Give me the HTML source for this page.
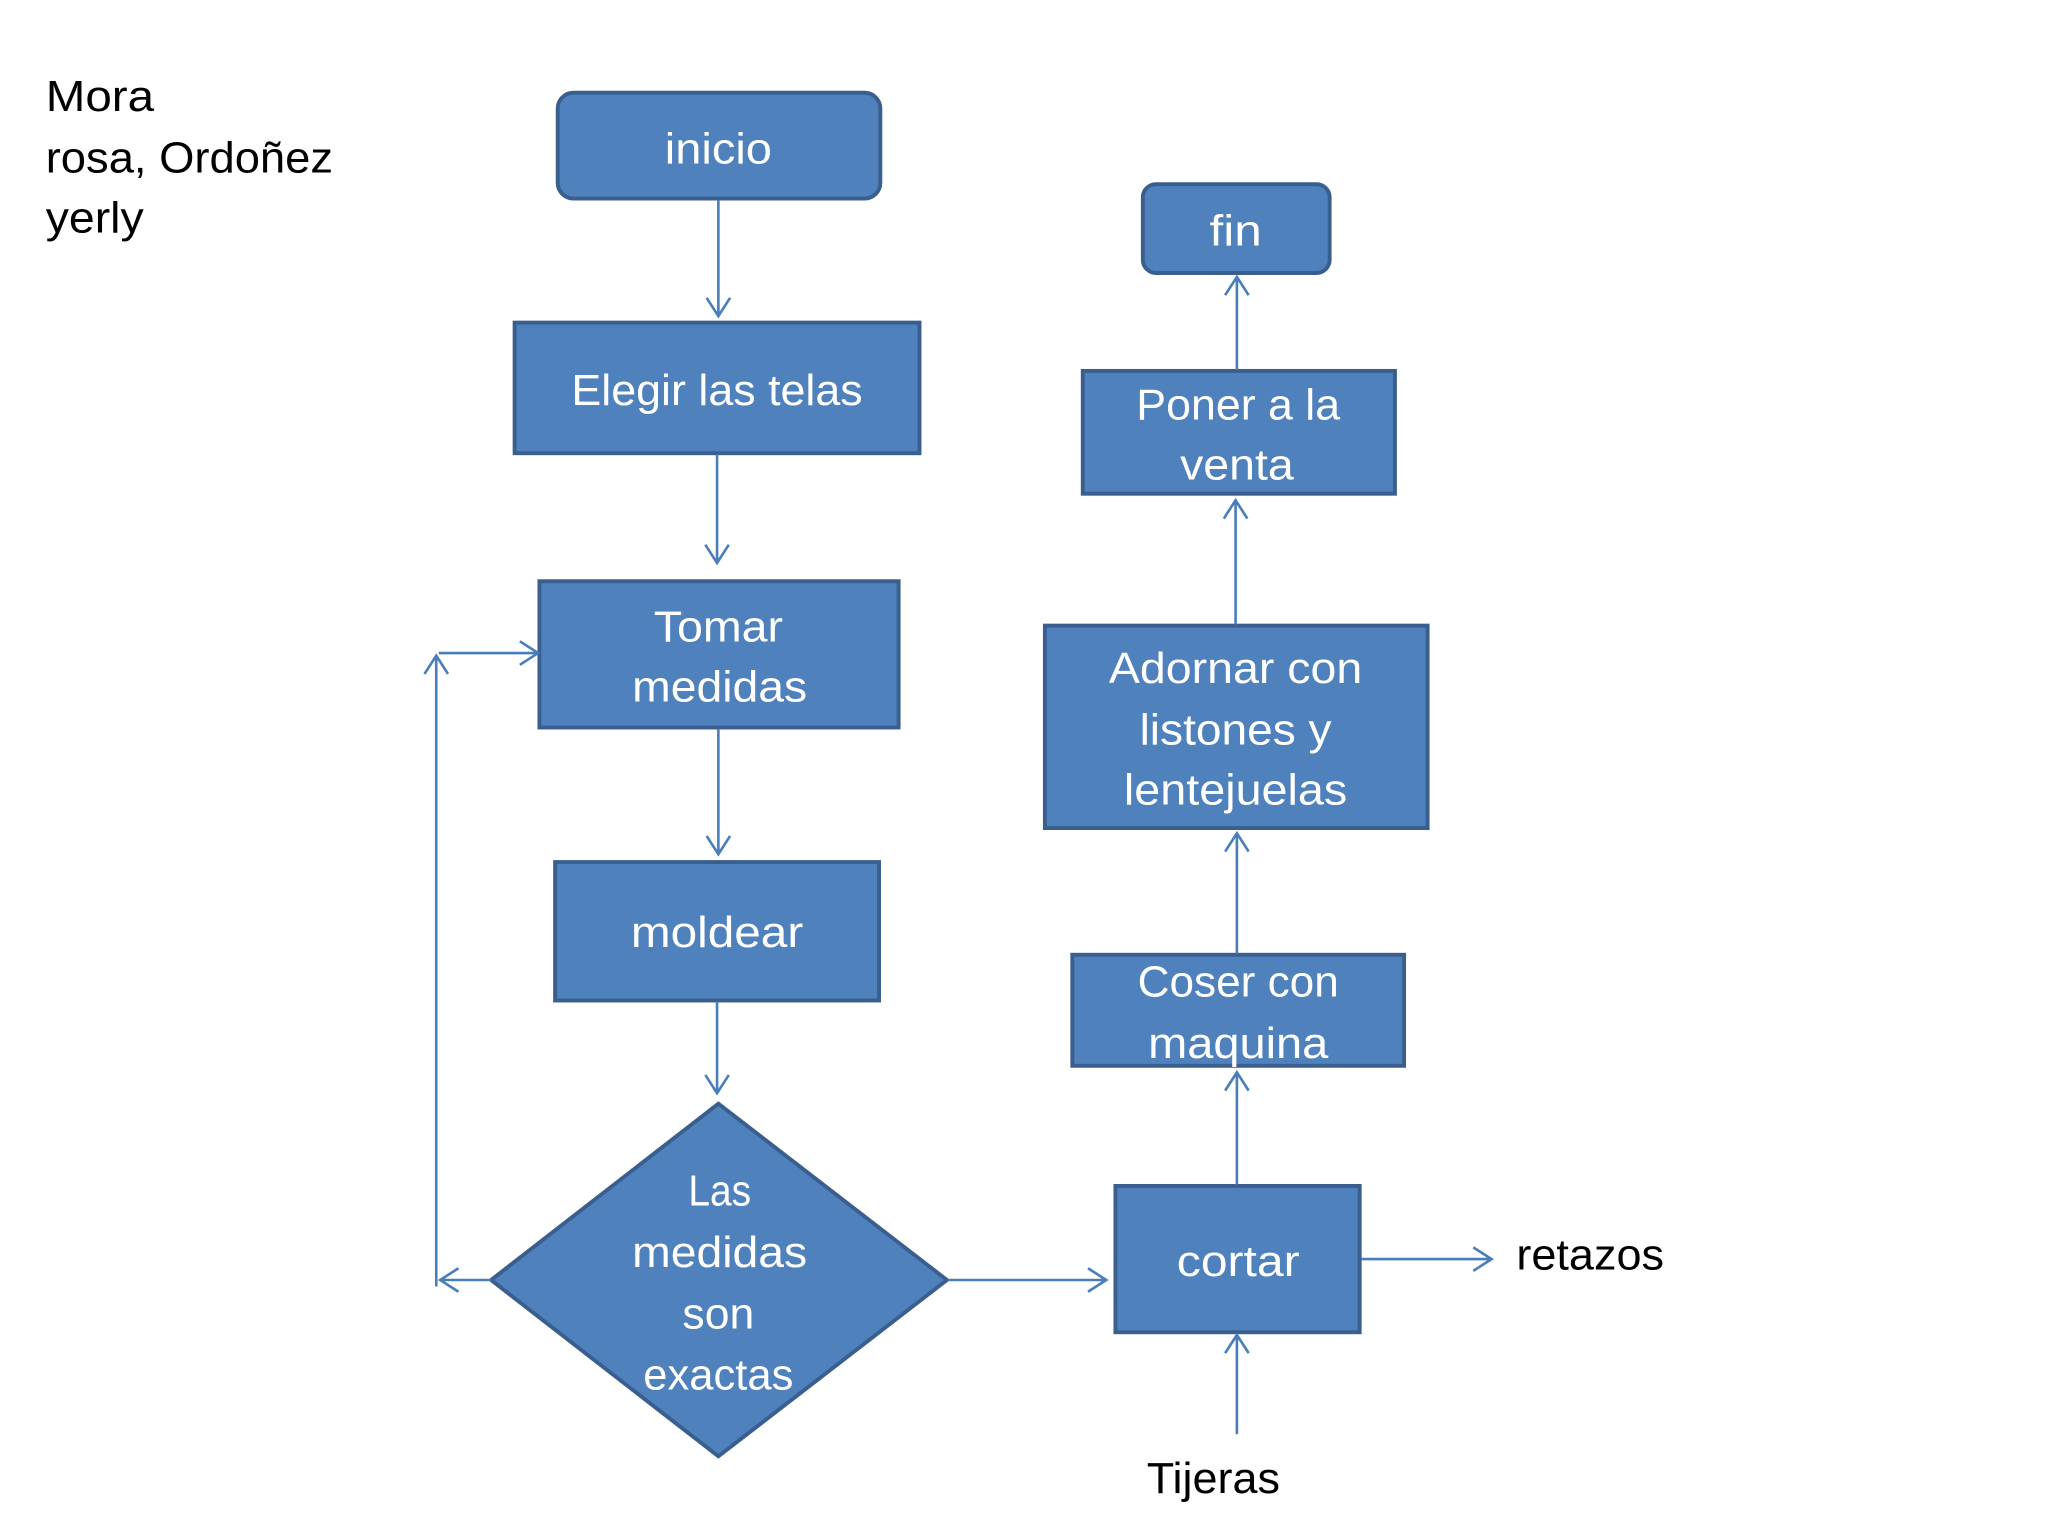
<!DOCTYPE html>
<html><head><meta charset="utf-8"><style>html,body{margin:0;padding:0;background:#fff}svg{display:block}</style></head>
<body>
<svg width="2048" height="1536" viewBox="0 0 1568 1176" xmlns="http://www.w3.org/2000/svg">
<g font-family="Liberation Sans, sans-serif" font-size="32" text-anchor="middle" fill="#fff">
</g>
<g fill="#4F81BD" stroke="#3A5F8E" stroke-width="3">
<rect x="427" y="71" width="247" height="81" rx="12"/>
<rect x="394" y="247" width="310" height="100"/>
<rect x="413" y="445" width="275" height="112"/>
<rect x="425" y="660" width="248" height="106"/>
<polygon points="550,845 725,980 550,1115 376,980"/>
<rect x="854" y="908" width="187" height="112"/>
<rect x="821" y="731" width="254" height="85"/>
<rect x="800" y="479" width="293" height="155"/>
<rect x="829" y="284" width="239" height="94"/>
<rect x="875" y="141" width="143" height="68" rx="10"/>
</g>
<g stroke="#4A7EBB" stroke-width="2" fill="none">
<path d="M550 153V242M541 228L550 242L559 228"/>
<path d="M549 348V431M540 417L549 431L558 417"/>
<path d="M550 558V654M541 640L550 654L559 640"/>
<path d="M549 767V837M540 823L549 837L558 823"/>
<path d="M376 980H337M351 971L337 980L351 989"/>
<path d="M334 985V502M325 516L334 502L343 516"/>
<path d="M336 500H412M398 491L412 500L398 509"/>
<path d="M726 980H847M833 971L847 980L833 989"/>
<path d="M1042 964H1142M1128 955L1142 964L1128 973"/>
<path d="M947 1098V1022M938 1036L947 1022L956 1036"/>
<path d="M947 907V821M938 835L947 821L956 835"/>
<path d="M947 730V638M938 652L947 638L956 652"/>
<path d="M946 478V383M937 397L946 383L955 397"/>
<path d="M947 283V212M938 226L947 212L956 226"/>
</g>
<g font-family="Liberation Sans, sans-serif" font-size="33" text-anchor="middle" fill="#fff" lengthAdjust="spacingAndGlyphs">
<text x="550" y="125" textLength="82" lengthAdjust="spacingAndGlyphs">inicio</text>
<text x="549" y="310" textLength="223" lengthAdjust="spacingAndGlyphs">Elegir las telas</text>
<text x="550" y="491" textLength="99" lengthAdjust="spacingAndGlyphs">Tomar</text>
<text x="551" y="537" textLength="134" lengthAdjust="spacingAndGlyphs">medidas</text>
<text x="549" y="725" textLength="132" lengthAdjust="spacingAndGlyphs">moldear</text>
<text x="551" y="923" textLength="48" lengthAdjust="spacingAndGlyphs">Las</text>
<text x="551" y="970" textLength="134" lengthAdjust="spacingAndGlyphs">medidas</text>
<text x="550" y="1017" textLength="55" lengthAdjust="spacingAndGlyphs">son</text>
<text x="550" y="1064" textLength="115" lengthAdjust="spacingAndGlyphs">exactas</text>
<text x="948" y="977" textLength="94" lengthAdjust="spacingAndGlyphs">cortar</text>
<text x="948" y="763" textLength="154" lengthAdjust="spacingAndGlyphs">Coser con</text>
<text x="948" y="810" textLength="138" lengthAdjust="spacingAndGlyphs">maquina</text>
<text x="946" y="523" textLength="194" lengthAdjust="spacingAndGlyphs">Adornar con</text>
<text x="946" y="570" textLength="147" lengthAdjust="spacingAndGlyphs">listones y</text>
<text x="946" y="616" textLength="171" lengthAdjust="spacingAndGlyphs">lentejuelas</text>
<text x="948" y="321" textLength="156" lengthAdjust="spacingAndGlyphs">Poner a la</text>
<text x="947" y="367" textLength="87" lengthAdjust="spacingAndGlyphs">venta</text>
<text x="946" y="188" textLength="40" lengthAdjust="spacingAndGlyphs">fin</text>
</g>
<g font-family="Liberation Sans, sans-serif" font-size="33" fill="#000">
<text x="35" y="85" textLength="83" lengthAdjust="spacingAndGlyphs">Mora</text>
<text x="35" y="132" textLength="220" lengthAdjust="spacingAndGlyphs">rosa, Ordoñez</text>
<text x="35" y="178" textLength="75" lengthAdjust="spacingAndGlyphs">yerly</text>
<text x="1161" y="972" textLength="113" lengthAdjust="spacingAndGlyphs">retazos</text>
<text x="878" y="1143" textLength="102" lengthAdjust="spacingAndGlyphs">Tijeras</text>
</g>
</svg>
</body></html>
